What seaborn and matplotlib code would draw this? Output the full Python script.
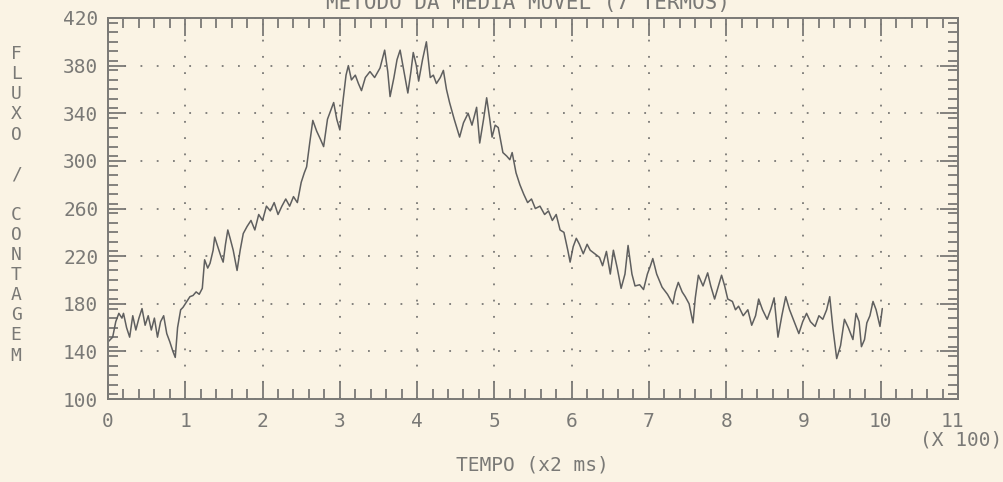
import matplotlib
matplotlib.use("Agg")
import matplotlib.pyplot as plt
from matplotlib.ticker import MultipleLocator
import seaborn as sns

# Moving-average flux trace (time in units of 100 samples of 2 ms)
tempo = [
    0.00, 0.03, 0.06, 0.10, 0.14, 0.18, 0.20, 0.24, 0.28, 0.32, 0.36, 0.40, 0.44, 0.48,
    0.52, 0.56, 0.60, 0.64, 0.68, 0.72, 0.76, 0.80, 0.84, 0.87, 0.90, 0.94, 0.97, 1.02,
    1.06, 1.10, 1.14, 1.18, 1.22, 1.25, 1.29, 1.32, 1.36, 1.38, 1.42, 1.46, 1.49, 1.52,
    1.55, 1.58, 1.62, 1.67, 1.71, 1.75, 1.80, 1.85, 1.90, 1.95, 2.00, 2.05, 2.10, 2.15,
    2.20, 2.25, 2.30, 2.35, 2.40, 2.45, 2.50, 2.54, 2.57, 2.61, 2.65, 2.70, 2.75, 2.79,
    2.84, 2.88, 2.92, 2.96, 3.00, 3.04, 3.08, 3.11, 3.15, 3.20, 3.24, 3.28, 3.33, 3.39,
    3.45, 3.52, 3.58, 3.62, 3.65, 3.70, 3.74, 3.78, 3.83, 3.88, 3.92, 3.95, 3.99, 4.02,
    4.07, 4.12, 4.17, 4.21, 4.25, 4.30, 4.34, 4.38, 4.42, 4.48, 4.55, 4.60, 4.66, 4.71,
    4.77, 4.81, 4.86, 4.90, 4.94, 4.97, 5.01, 5.05, 5.11, 5.16, 5.20, 5.23, 5.28, 5.33,
    5.38, 5.43, 5.48, 5.53, 5.59, 5.65, 5.70, 5.75, 5.80, 5.85, 5.90, 5.95, 5.98, 6.02,
    6.06, 6.10, 6.15, 6.20, 6.24, 6.30, 6.36, 6.40, 6.45, 6.50, 6.54, 6.59, 6.64, 6.69,
    6.73, 6.78, 6.82, 6.88, 6.93, 6.98, 7.02, 7.05, 7.10, 7.17, 7.24, 7.31, 7.34, 7.38,
    7.43, 7.47, 7.52, 7.57, 7.60, 7.64, 7.70, 7.76, 7.80, 7.85, 7.90, 7.94, 7.98, 8.02,
    8.08, 8.12, 8.16, 8.22, 8.28, 8.33, 8.38, 8.42, 8.47, 8.53, 8.58, 8.62, 8.67, 8.72,
    8.77, 8.82, 8.88, 8.94, 8.99, 9.04, 9.09, 9.15, 9.20, 9.25, 9.30, 9.34, 9.38, 9.43,
    9.48, 9.53, 9.58, 9.64, 9.68, 9.72, 9.75, 9.79, 9.82, 9.86, 9.90, 9.94, 9.99, 10.02,
]
fluxo = [
    148, 150, 152, 165, 172, 168, 172, 160, 152, 170, 158, 168, 176, 162,
    170, 158, 168, 152, 165, 170, 155, 148, 140, 135, 160, 175, 177, 182,
    186, 187, 190, 188, 193, 217, 210, 214, 225, 236, 228, 220, 215, 230,
    242, 235, 225, 208, 225, 239, 245, 250, 242, 255, 250, 262, 258, 265,
    255, 262, 268, 262, 270, 265, 282, 290, 295, 315, 334, 325, 318, 312,
    335, 342, 349, 335, 326, 350, 372, 380, 368, 372, 365, 359, 370, 375,
    370, 378, 393, 375, 354, 370, 385, 393, 375, 357, 375, 391, 380, 367,
    385, 400, 370, 372, 365, 370, 376, 360, 349, 335, 320, 332, 340, 330,
    345, 315, 335, 353, 335, 320, 330, 328, 307, 304, 301, 307, 290, 280,
    272, 265, 268, 260, 262, 255, 258, 250, 255, 242, 240, 225, 215, 228,
    235, 230, 222, 230, 225, 222, 219, 212, 224, 205, 225, 210, 193, 205,
    229, 205, 195, 196, 192, 205, 212, 218, 205, 194, 188, 180, 190, 198,
    190, 186, 180, 164, 185, 204, 195, 206, 195, 184, 195, 204, 195, 184,
    182, 175, 178, 170, 175, 162, 170, 184, 175, 167, 176, 185, 152, 170,
    186, 175, 165, 155, 165, 172, 165, 161, 170, 167, 175, 186, 160, 134,
    145, 167, 160, 150, 172, 165, 144, 150, 164, 170, 182, 175, 161, 176,
]

x_ticks = list(range(0, 12))
x_labels = [str(v) for v in x_ticks[:-1]] + [""]
y_ticks = list(range(100, 421, 40))

PAPER = "#faf3e4"
INK = "#7a7976"
TRACE = "#5f5f5f"

sns.set_theme(style="ticks")
plt.rcParams["font.family"] = ["DejaVu Sans Mono"]

fig = plt.figure(figsize=(10.04, 4.82), dpi=100, facecolor=PAPER)
ax = fig.add_axes([0.1076, 0.172, 0.8466, 0.7907])
ax.set_facecolor(PAPER)

sns.lineplot(x=tempo, y=fluxo, ax=ax, color=TRACE, linewidth=1.1,
             estimator=None, sort=False)

ax.set_xlim(0, 11)
ax.set_ylim(100, 420)
ax.set_xticks(x_ticks, x_labels)
ax.set_yticks(y_ticks)
ax.xaxis.set_minor_locator(MultipleLocator(0.2))
ax.yaxis.set_minor_locator(MultipleLocator(8))

ax.tick_params(which="both", direction="in", top=True, right=True,
               color=INK, width=1.3, labelcolor=INK, labelsize=14)
ax.tick_params(which="major", length=13)
ax.tick_params(which="minor", length=7)
ax.tick_params(axis="x", which="major", pad=9)
ax.tick_params(axis="y", which="major", pad=7)

for side in ax.spines.values():
    side.set_color(INK)
    side.set_linewidth(1.4)

ax.grid(True, which="major", color=INK, linestyle=(0, (1, 8)), linewidth=1.3)
ax.set_xlabel("")
ax.set_ylabel("")

# last tick label sits a little higher, with the scale factor beneath it
ax.annotate(str(x_ticks[-1]), xy=(x_ticks[-1], 0), xycoords=ax.get_xaxis_transform(),
            xytext=(-4, -16), textcoords="offset points", ha="center", va="center",
            color=INK, fontsize=14)
fig.text(0.998, 0.088, "(X 100)", ha="right", va="center",
         color=INK, fontsize=14)

fig.text(0.526, 0.982, "METODO DA MEDIA MOVEL (7 TERMOS)", ha="center",
         va="baseline", color=INK, fontsize=15)
fig.text(0.53, 0.035, "TEMPO (x2 ms)", ha="center", va="center",
         color=INK, fontsize=14)
fig.text(0.016, 0.575, "\n".join("FLUXO / CONTAGEM"), ha="center",
         va="center", color=INK, fontsize=13, linespacing=1.15)

fig.savefig("out.png", dpi=100, facecolor=PAPER)
